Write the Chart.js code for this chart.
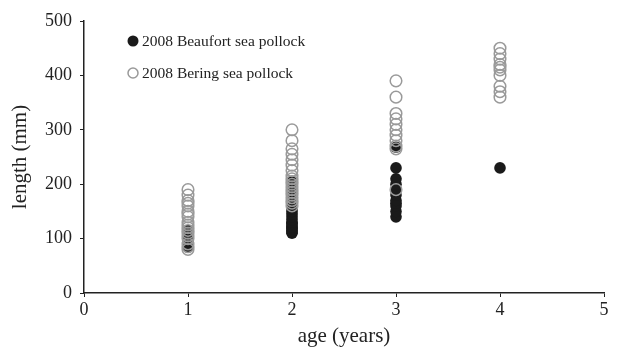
<!DOCTYPE html>
<html>
<head>
<meta charset="utf-8">
<script src="https://cdn.jsdelivr.net/npm/chart.js@4/dist/chart.umd.min.js"></script>
<style>
  html, body { margin: 0; padding: 0; background: #fff; }
  #wrap { width: 630px; height: 349px; }
</style>
</head>
<body>
<div id="wrap"><canvas id="grafica"></canvas></div>
<script>
// Valores: edad (años) y longitud (mm)
const beaufortEdad = [1, 1, 1, 1, 1, 1, 1,
  2, 2, 2, 2, 2, 2, 2, 2, 2, 2, 2, 2, 2, 2, 2, 2, 2, 2, 2, 2, 2,
  3, 3, 3, 3, 3, 3, 3, 3, 3, 3, 3,
  4];
const beaufortLongitud = [85, 90, 95, 100, 105, 110, 115,
  110, 112, 115, 118, 120, 122, 125, 128, 130, 135, 140, 145, 150, 155, 160, 165, 170, 180, 190, 200, 205,
  140, 150, 160, 165, 170, 180, 190, 200, 210, 230, 268,
  230];

const beringEdad = [1, 1, 1, 1, 1, 1, 1, 1, 1, 1, 1, 1, 1, 1, 1, 1, 1, 1,
  2, 2, 2, 2, 2, 2, 2, 2, 2, 2, 2, 2, 2, 2, 2, 2, 2, 2, 2,
  3, 3, 3, 3, 3, 3, 3, 3, 3, 3, 3,
  4, 4, 4, 4, 4, 4, 4, 4, 4, 4];
const beringLongitud = [80, 85, 90, 100, 105, 110, 115, 120, 125, 130, 140, 145, 150, 160, 165, 170, 180, 190,
  160, 165, 170, 175, 180, 185, 190, 195, 200, 205, 210, 215, 225, 235, 245, 255, 265, 280, 300,
  190, 265, 270, 280, 290, 300, 310, 320, 330, 360, 390,
  360, 370, 380, 400, 410, 415, 420, 430, 440, 450];

const ticksX = [0, 1, 2, 3, 4, 5];
const ticksY = [0, 100, 200, 300, 400, 500];
const etiquetas = ['2008 Beaufort sea pollock', '2008 Bering sea pollock'];

function puntos(xs, ys) {
  return xs.map((x, i) => ({ x: x, y: ys[i] }));
}

const fuente = '"Liberation Serif", "Times New Roman", serif';

// Leyenda dentro del area del grafico, como en la figura
const leyendaInterna = {
  id: 'leyendaInterna',
  afterDraw(chart) {
    const ctx = chart.ctx;
    const x0 = chart.chartArea.left + 49;
    const filas = [chart.chartArea.top + 20, chart.chartArea.top + 52];
    ctx.save();
    ctx.font = '15.5px ' + fuente;
    ctx.textBaseline = 'middle';
    filas.forEach((y, i) => {
      ctx.beginPath();
      ctx.arc(x0, y, i === 0 ? 5.5 : 5, 0, Math.PI * 2);
      if (i === 0) {
        ctx.fillStyle = '#1a1a1a';
        ctx.fill();
      } else {
        ctx.strokeStyle = '#999';
        ctx.lineWidth = 1.5;
        ctx.stroke();
      }
      ctx.fillStyle = '#222';
      ctx.fillText(etiquetas[i], x0 + 9, y + 1);
    });
    ctx.restore();
  }
};

const ctx = document.getElementById('grafica').getContext('2d');
new Chart(ctx, {
  type: 'scatter',
  data: {
    datasets: [
      {
        // Bering primero: se dibuja encima
        label: etiquetas[1],
        data: puntos(beringEdad, beringLongitud),
        pointRadius: 5.8,
        pointBackgroundColor: 'rgba(0,0,0,0)',
        pointBorderColor: '#9a9a9a',
        pointBorderWidth: 1.5
      },
      {
        label: etiquetas[0],
        data: puntos(beaufortEdad, beaufortLongitud),
        pointRadius: 5.8,
        pointBackgroundColor: '#1a1a1a',
        pointBorderColor: '#1a1a1a',
        pointBorderWidth: 0
      }
    ]
  },
  options: {
    responsive: true,
    maintainAspectRatio: false,
    animation: false,
    layout: { padding: { top: 21, right: 26, left: 0, bottom: 0 } },
    plugins: {
      legend: { display: false },
      tooltip: { enabled: false }
    },
    scales: {
      x: {
        type: 'linear',
        min: 0,
        max: 5,
        afterBuildTicks: s => { s.ticks = ticksX.map(v => ({ value: v })); },
        afterFit: s => { s.height = 56; },
        grid: { display: true, drawOnChartArea: false, drawTicks: true, tickLength: 4, color: '#222', lineWidth: 1 },
        border: { color: '#222', width: 1.5 },
        ticks: { color: '#222', font: { family: fuente, size: 18 }, padding: 2, maxRotation: 0 },
        title: { display: true, text: 'age (years)', color: '#222', font: { family: fuente, size: 21 }, padding: { top: 0, bottom: 0 } }
      },
      y: {
        type: 'linear',
        min: 0,
        max: 500,
        afterBuildTicks: s => { s.ticks = ticksY.map(v => ({ value: v })); },
        afterFit: s => { s.width = 84; },
        grid: { display: true, drawOnChartArea: false, drawTicks: true, tickLength: 4, color: '#222', lineWidth: 1 },
        border: { color: '#222', width: 1.5 },
        ticks: { color: '#222', font: { family: fuente, size: 18 }, padding: 8 },
        title: { display: true, text: 'length (mm)', color: '#222', font: { family: fuente, size: 21 }, padding: { top: 8, bottom: 0 } }
      }
    }
  },
  plugins: [leyendaInterna]
});
</script>
</body>
</html>
